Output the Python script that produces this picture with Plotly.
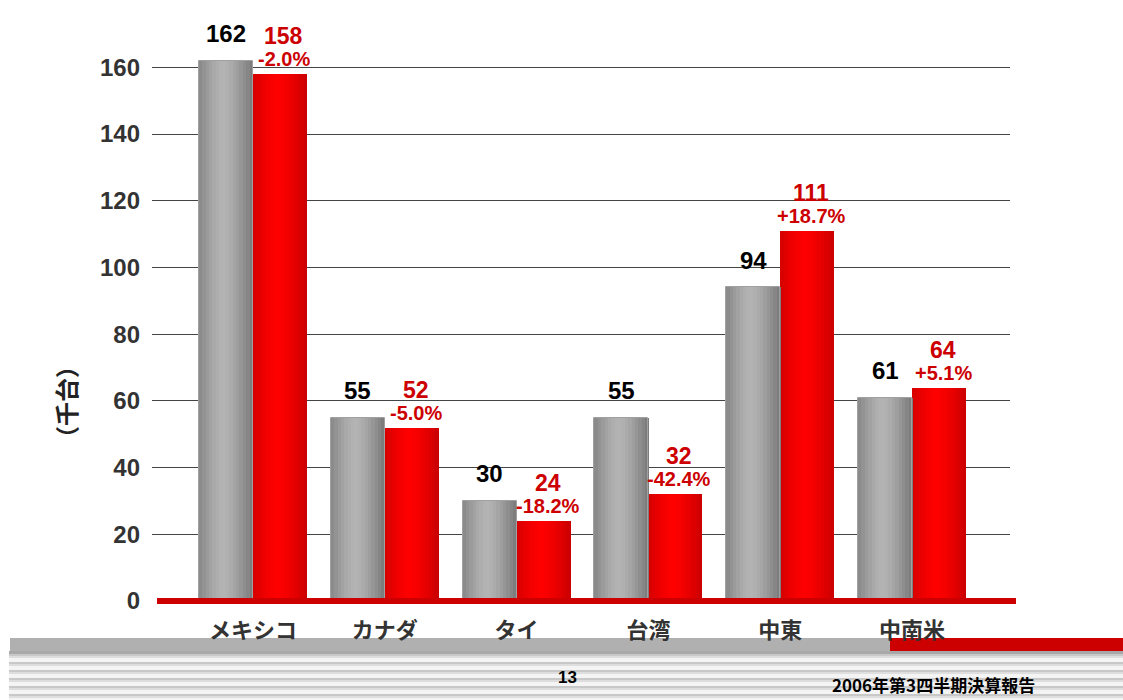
import plotly.graph_objects as go

categories = ["メキシコ", "カナダ", "タイ", "台湾", "中東", "中南米"]
prev_values = [162, 55, 30, 55, 94, 61]
curr_values = [158, 52, 24, 32, 111, 64]
change_labels = ["-2.0%", "-5.0%", "-18.2%", "-42.4%", "+18.7%", "+5.1%"]
y_ticks = [0, 20, 40, 60, 80, 100, 120, 140, 160]
y_title = "（千台）"
page_number = "13"
footer_title = "2006年第3四半期決算報告"

W, H = 1123, 700
L, R, T, B = 152, 113, 34, 99
PW, PH = W - L - R, H - T - B


def px(x):
    return (x - L) / PW


def py(y):
    return (H - B - y) / PH


NUM = "Liberation Sans, Arial, Noto Sans CJK JP"
CJK = "Noto Sans CJK JP, Liberation Sans"
RED = "#cc0000"

xs = list(range(len(categories)))
bw = 0.41


def blend(c1, c2, t):
    return "#%02x%02x%02x" % tuple(int(round(a + (b - a) * t)) for a, b in zip(c1, c2))


def gradient(dark, light, n):
    cols = []
    for k in range(n):
        u = (k + 0.5) / n
        d = abs(u - 0.45) / 0.55
        t = max(0.0, 1 - d ** 1.4)
        cols.append(blend(dark, light, t))
    return cols


fig = go.Figure()
n = 16
step = bw / n
gray_cols = gradient((120, 120, 120), (180, 180, 180), n)
red_cols = gradient((200, 0, 0), (255, 0, 0), n)
for k in range(n):
    fig.add_trace(go.Bar(x=xs, y=prev_values, width=step * 1.15, offset=-bw + k * step,
                         marker=dict(color=gray_cols[k], line=dict(width=0)),
                         hoverinfo="skip", showlegend=False))
    fig.add_trace(go.Bar(x=xs, y=curr_values, width=step * 1.15 if k < n - 1 else step,
                         offset=k * step,
                         marker=dict(color=red_cols[k], line=dict(width=0)),
                         hoverinfo="skip", showlegend=False))
fig.add_trace(go.Bar(x=xs, y=prev_values, width=bw, offset=-bw,
                     marker=dict(color="rgba(0,0,0,0)", line=dict(width=1, color="#a0a0a0")),
                     hoverinfo="skip", showlegend=False))

annotations = []
for i in xs:
    annotations.append(dict(x=i - bw / 2, y=prev_values[i], xref="x", yref="y",
                            text="<b>%d</b>" % prev_values[i], showarrow=False,
                            yanchor="middle", yshift=27,
                            font=dict(family=NUM, size=24, color="#000000")))
    annotations.append(dict(x=i + bw / 2 + 0.03, y=curr_values[i], xref="x", yref="y",
                            text="<b>%d</b>" % curr_values[i], showarrow=False,
                            yanchor="middle", yshift=38,
                            font=dict(family=NUM, size=23, color=RED)))
    annotations.append(dict(x=i + bw / 2 + 0.03, y=curr_values[i], xref="x", yref="y",
                            text="<b>%s</b>" % change_labels[i], showarrow=False,
                            yanchor="middle", yshift=15,
                            font=dict(family=NUM, size=20, color=RED)))

annotations.append(dict(x=px(65), y=py(402), xref="paper", yref="paper",
                        text="<b>%s</b>" % y_title, textangle=-90, showarrow=False,
                        xanchor="center", yanchor="middle",
                        font=dict(family=CJK, size=24, color="#222222")))
annotations.append(dict(x=px(567), y=py(677), xref="paper", yref="paper",
                        text="<b>%s</b>" % page_number, showarrow=False,
                        xanchor="center", yanchor="middle",
                        font=dict(family=NUM, size=17, color="#000000")))
annotations.append(dict(x=px(933), y=py(684), xref="paper", yref="paper",
                        text="<b>%s</b>" % footer_title, showarrow=False,
                        xanchor="center", yanchor="middle",
                        font=dict(family=CJK, size=17, color="#000000")))

shapes = []
shapes.append(dict(type="rect", xref="paper", yref="paper", x0=px(10), x1=px(890),
                   y0=py(651), y1=py(638), fillcolor="#b0b0b0", line=dict(width=0), layer="below"))
shapes.append(dict(type="rect", xref="paper", yref="paper", x0=px(890), x1=px(1123),
                   y0=py(651), y1=py(638), fillcolor="#cc0000", line=dict(width=0), layer="below"))
shapes.append(dict(type="rect", xref="paper", yref="paper", x0=px(9), x1=px(1123),
                   y0=py(700), y1=py(651), fillcolor="#eeeeee", line=dict(width=0), layer="below"))
shapes.append(dict(type="rect", xref="paper", yref="paper", x0=px(9), x1=px(1123),
                   y0=py(654), y1=py(651), fillcolor="#a8a8a8", line=dict(width=0), layer="below"))
yy = 654
while yy < 700:
    shapes.append(dict(type="rect", xref="paper", yref="paper", x0=px(9), x1=px(1123),
                       y0=py(min(yy + 2, 700)), y1=py(yy), fillcolor="#c8c8c8",
                       line=dict(width=0), layer="below"))
    shapes.append(dict(type="rect", xref="paper", yref="paper", x0=px(9), x1=px(1123),
                       y0=py(min(yy + 4, 700)), y1=py(min(yy + 2, 700)), fillcolor="#dedede",
                       line=dict(width=0), layer="below"))
    shapes.append(dict(type="rect", xref="paper", yref="paper", x0=px(9), x1=px(1123),
                       y0=py(min(yy + 8, 700)), y1=py(min(yy + 4, 700)), fillcolor="#f4f4f4",
                       line=dict(width=0), layer="below"))
    yy += 8
shapes.append(dict(type="rect", xref="paper", yref="paper", x0=px(157), x1=px(1016),
                   y0=py(604), y1=py(598), fillcolor="#cc0000", line=dict(width=0), layer="above"))

fig.update_layout(
    width=W, height=H,
    margin=dict(l=L, r=R, t=T, b=B, pad=0),
    paper_bgcolor="white", plot_bgcolor="white",
    barmode="overlay", bargap=0,
    showlegend=False,
    annotations=annotations,
    shapes=shapes,
    xaxis=dict(range=[-0.766, 5.743], tickmode="array", tickvals=xs, ticktext=categories,
               showgrid=False, zeroline=False, showline=False, ticks="",
               ticklabelstandoff=14,
               tickfont=dict(family=CJK, size=22, color="#333333", weight="bold")),
    yaxis=dict(range=[0, 170], tickmode="array", tickvals=y_ticks,
               ticktext=[str(v) for v in y_ticks],
               showgrid=True, gridcolor="#444444", gridwidth=1,
               zeroline=False, showline=False, ticks="",
               ticklabelstandoff=11,
               tickfont=dict(family=NUM, size=24, color="#333333", weight="bold")),
)

fig.write_html("out.html", config={"displayModeBar": False},
               post_script="document.body.style.margin='0';document.body.style.overflow='hidden';")
